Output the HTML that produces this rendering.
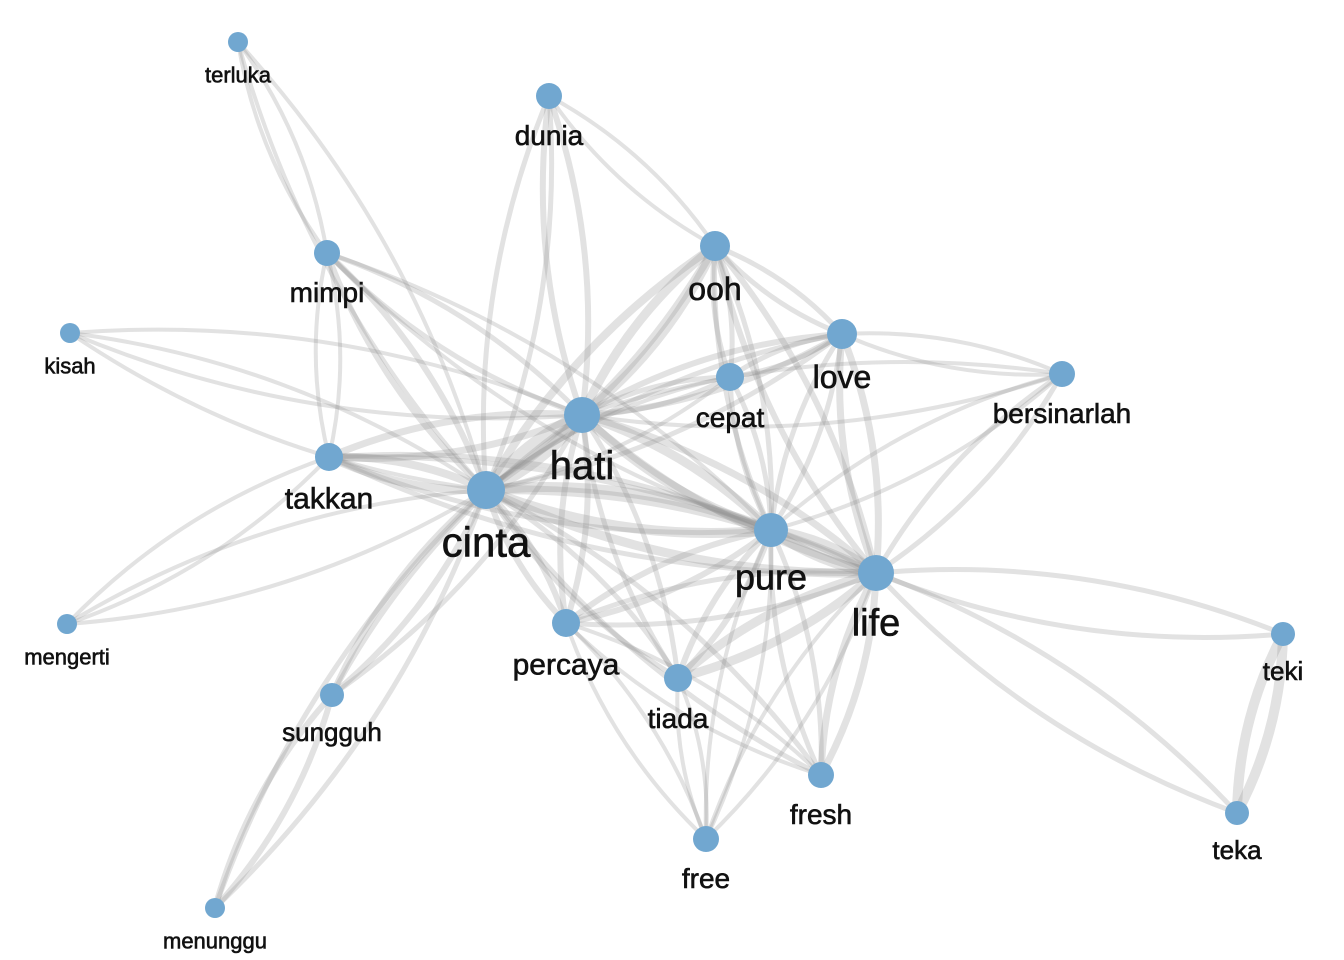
<!DOCTYPE html>
<html><head><meta charset="utf-8"><style>
html,body{margin:0;padding:0;background:#fff;}
svg{display:block;}
text{font-family:"Liberation Sans","DejaVu Sans",sans-serif;fill:#111;text-anchor:middle;stroke:#111;stroke-width:0.6;}
</style></head><body>
<svg id="net" width="1344" height="960" viewBox="0 0 1344 960">
<g id="edges"></g>
<g id="nodes"></g>
<g id="labels"></g>
</svg>
<script>
const nodeNames=["terluka","dunia","ooh","mimpi","kisah","love","cepat","bersinarlah","hati","takkan","cinta","pure","life","mengerti","percaya","teki","tiada","sungguh","fresh","free","teka","menunggu"];
const nodeX=[238,549,715,327,70,842,730,1062,582,329,486,771,876,67,566,1283,678,332,821,706,1237,215];
const nodeY=[42,96,246,253,333,334,377,374,415,457,490,530,573,624,623,634,678,695,775,839,813,908];
const nodeSize=[10,13,15,13,10,15,14,13,18,14,19,17,18,10,14,12,14,12,13,13,12,10];
const labelSize=[22,28,32,28,22,32,28,28,40,30,42,36,38,22,30,26,28,26,28,28,26,22];
const edgeFrom=["terluka","terluka","dunia","dunia","dunia","ooh","ooh","ooh","ooh","ooh","ooh","mimpi","mimpi","mimpi","mimpi","kisah","kisah","love","love","love","love","love","love","bersinarlah","bersinarlah","bersinarlah","cepat","cepat","cepat","hati","hati","hati","hati","hati","hati","takkan","takkan","takkan","cinta","cinta","cinta","cinta","cinta","cinta","cinta","cinta","mengerti","pure","pure","pure","pure","pure","life","life","life","life","life","life","teki","tiada","percaya","percaya","sungguh","sungguh"];
const edgeTo=["mimpi","cinta","ooh","hati","cinta","hati","cinta","love","pure","life","cepat","takkan","cinta","hati","pure","cinta","hati","hati","cepat","bersinarlah","pure","life","cinta","life","pure","hati","hati","pure","cinta","cinta","pure","life","takkan","percaya","tiada","cinta","pure","life","pure","life","percaya","tiada","sungguh","menunggu","mengerti","fresh","takkan","life","percaya","tiada","fresh","free","teki","teka","tiada","fresh","percaya","free","teka","free","free","fresh","menunggu","hati"];
const edgeWeight=[2,2,2,4,3,7,6,3,3,4,3,2,4,3,2,2,2,4,3,2,3,5,3,3,2,2,3,3,2,10,7,5,5,4,3,6,3,3,8,7,4,3,4,3,2,3,2,8,4,4,3,2,3,3,7,5,3,2,8,2,2,2,4,3];
const svgNS="http://www.w3.org/2000/svg";
const eg=document.getElementById('edges'),ng=document.getElementById('nodes'),lg=document.getElementById('labels');
function idx(n){return nodeNames.indexOf(n);}
function arc(a,b,k){
  const x1=nodeX[a],y1=nodeY[a],x2=nodeX[b],y2=nodeY[b];
  const mx=(x1+x2)/2,my=(y1+y2)/2,dx=x2-x1,dy=y2-y1;
  const cx=mx-dy*k,cy=my+dx*k;
  return `M${x1},${y1} Q${cx},${cy} ${x2},${y2}`;
}
for(let i=0;i<edgeFrom.length;i++){
  const a=idx(edgeFrom[i]),b=idx(edgeTo[i]);
  [0.12,-0.12].forEach(k=>{
    const p=document.createElementNS(svgNS,'path');
    p.setAttribute('d',arc(a,b,k));
    p.setAttribute('fill','none');
    p.setAttribute('stroke','#8a8a8a');
    p.setAttribute('stroke-opacity','0.25');
    p.setAttribute('stroke-width',2+edgeWeight[i]*1.0);
    
    
    eg.appendChild(p);
  });
}
for(let i=0;i<nodeNames.length;i++){
  const c=document.createElementNS(svgNS,'circle');
  c.setAttribute('cx',nodeX[i]);c.setAttribute('cy',nodeY[i]);c.setAttribute('r',nodeSize[i]);
  c.setAttribute('fill','#71a7d0');
  
  
  ng.appendChild(c);
  const t=document.createElementNS(svgNS,'text');
  t.setAttribute('x',nodeX[i]);
  t.setAttribute('y',nodeY[i]+nodeSize[i]+labelSize[i]*0.85+12);
  t.setAttribute('font-size',labelSize[i]);
  t.textContent=nodeNames[i];
  
  
  lg.appendChild(t);
}
</script>
</body></html>
